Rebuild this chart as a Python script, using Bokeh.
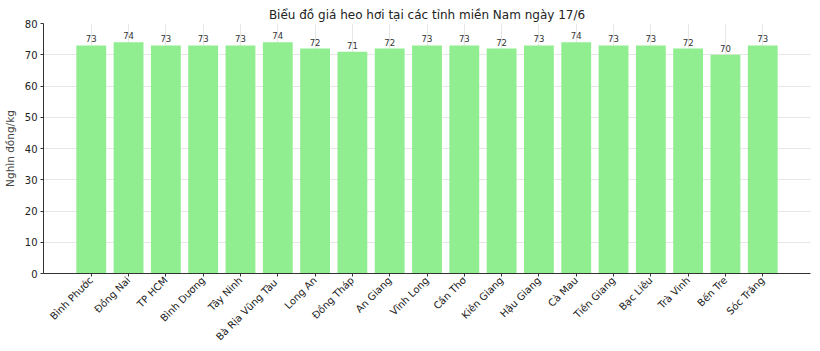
from bokeh.plotting import figure
from bokeh.models import FactorRange, Range1d, ColumnDataSource, SingleIntervalTicker
from bokeh.core.properties import value
from bokeh.embed import file_html
from bokeh.resources import INLINE
import math

provinces = ["Bình Phước", "Đồng Nai", "TP HCM", "Bình Dương", "Tây Ninh",
             "Bà Rịa  Vũng Tàu", "Long An", "Đồng Tháp", "An Giang", "Vĩnh Long",
             "Cần Thơ", "Kiên Giang", "Hậu Giang", "Cà Mau", "Tiền Giang",
             "Bạc Liêu", "Trà Vinh", "Bến Tre", "Sóc Trăng"]
prices = [73, 74, 73, 73, 73, 74, 72, 71, 72, 73, 73, 72, 73, 74, 73, 73, 72, 70, 73]
labels = [str(v) for v in prices]

FONT = "DejaVu Sans"

src = ColumnDataSource(dict(x=provinces, y=prices, t=labels))

p = figure(width=820, height=351, output_backend="svg", toolbar_location=None,
           x_range=FactorRange(factors=provinces, range_padding=0.78,
                               range_padding_units="absolute"),
           y_range=Range1d(0, 80),
           min_border_left=38, min_border_right=10, min_border_top=23,
           min_border_bottom=78)

p.title.text = "Biểu đồ giá heo hơi tại các tỉnh miền Nam ngày 17/6"
p.title.align = "center"
p.title.text_font = FONT
p.title.text_font_size = "12px"
p.title.text_font_style = "normal"
p.title.text_color = "#222222"
p.title.standoff = 4

p.vbar(x="x", top="y", width=0.8, source=src, fill_color="#90EE90",
       line_color=None)
p.text(x="x", y="y", text="t", source=src, text_align="center",
       text_baseline="bottom", y_offset=-3, text_font=value(FONT),
       text_font_size="8.5px", text_color="#333333")

p.outline_line_color = None
p.xgrid.grid_line_color = "#e6e6e6"
p.ygrid.grid_line_color = "#e6e6e6"
p.ygrid.ticker = SingleIntervalTicker(interval=10)
p.yaxis.ticker = SingleIntervalTicker(interval=10)

for ax in (p.xaxis, p.yaxis):
    ax.axis_line_color = "#333333"
    ax.major_tick_line_color = "#333333"
    ax.major_tick_in = 0
    ax.major_tick_out = 3
    ax.minor_tick_line_color = None
    ax.major_label_text_font = FONT
    ax.major_label_text_font_size = "10px"
    ax.major_label_text_color = "#222222"
    ax.major_label_standoff = 2

p.yaxis.axis_label = "Nghìn đồng/kg"
p.yaxis.axis_label_text_font = FONT
p.yaxis.axis_label_text_font_size = "10.5px"
p.yaxis.axis_label_text_font_style = "normal"
p.yaxis.axis_label_standoff = 6
p.xaxis.major_label_orientation = math.pi / 4

open("out.html", "w").write(file_html(p, INLINE))
